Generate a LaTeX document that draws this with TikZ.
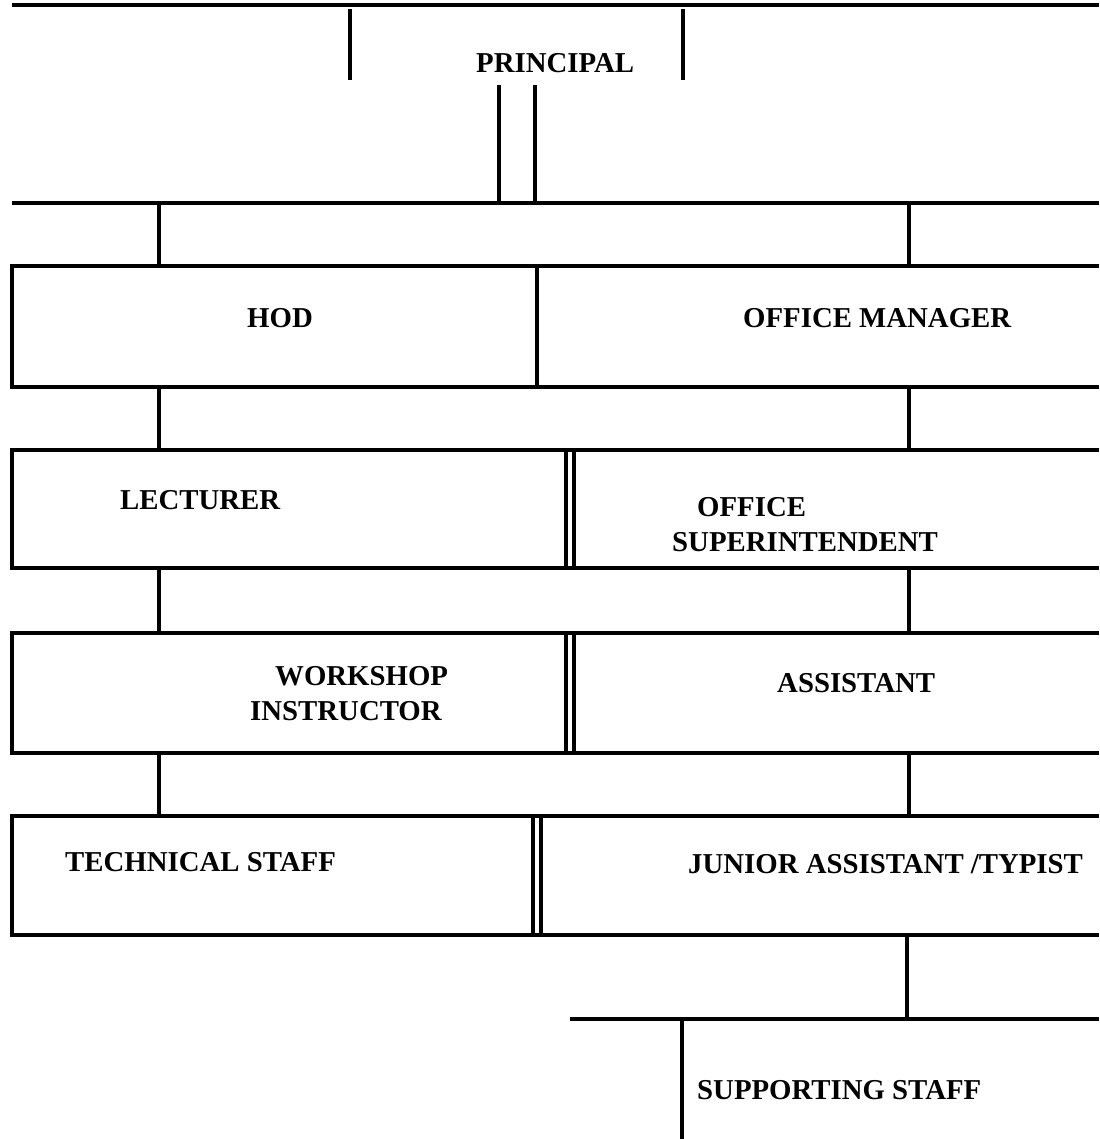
\documentclass[tikz,border=0pt]{standalone}
\usepackage{fontspec}
\setmainfont{Liberation Serif}
\begin{document}
\begin{tikzpicture}[x=1pt,y=-1pt,
  rule/.style={line width=3.5pt,black},
  lbl/.style={font=\fontsize{28.8}{35}\selectfont\bfseries,inner sep=0pt,anchor=west,align=left}]
\useasboundingbox (0,0) rectangle (1099,1139);
% labels
\node[lbl] (p) at (476,63) {PRINCIPAL};
\node[lbl] (hod) at (247,318) {HOD};
\node[lbl] (om) at (743,318) {OFFICE MANAGER};
\node[lbl] (lec) at (120,500) {LECTURER};
\node[lbl] (os) at (672,525) {\hspace*{25pt}OFFICE\\SUPERINTENDENT};
\node[lbl] (ws) at (250,694) {\hspace*{25pt}WORKSHOP\\INSTRUCTOR};
\node[lbl] (asst) at (777,683) {ASSISTANT};
\node[lbl] (tech) at (65,862) {TECHNICAL STAFF};
\node[lbl] (jr) at (688,864) {JUNIOR ASSISTANT /TYPIST};
\node[lbl] (sup) at (697,1090) {SUPPORTING STAFF};
% coordinates
\coordinate (pL1) at (350,9); \coordinate (pL2) at (350,80);
\coordinate (pR1) at (683,9); \coordinate (pR2) at (683,80);
\coordinate (d1a) at (499,85); \coordinate (d1b) at (499,203);
\coordinate (d2a) at (535,85); \coordinate (d2b) at (535,203);
% principal block
\draw[rule] (12,5) -- (1099,5);
\draw[rule] (pL1) -- (pL2);
\draw[rule] (pR1) -- (pR2);
\draw[rule] (d1a) -- (d1b);
\draw[rule] (d2a) -- (d2b);
\draw[rule] (12,203) -- (1099,203);
% connectors to row 1
\draw[rule] (159,203) -- (159,266);
\draw[rule] (909,203) -- (909,266);
% row 1: HOD / OFFICE MANAGER
\draw[rule] (1099,266) -| (12,387) -- (1099,387);
\draw[rule] (537,266) -- (537,387);
\draw[rule] (159,387) -- (159,450);
\draw[rule] (909,387) -- (909,450);
% row 2: LECTURER / OFFICE SUPERINTENDENT
\draw[rule] (1099,450) -| (12,568) -- (1099,568);
\draw[rule] (566,450) -- (566,568);
\draw[rule] (574,450) -- (574,568);
\draw[rule] (159,568) -- (159,633);
\draw[rule] (909,568) -- (909,633);
% row 3: WORKSHOP INSTRUCTOR / ASSISTANT
\draw[rule] (1099,633) -| (12,753) -- (1099,753);
\draw[rule] (566,633) -- (566,753);
\draw[rule] (574,633) -- (574,753);
\draw[rule] (159,753) -- (159,816);
\draw[rule] (909,753) -- (909,816);
% row 4: TECHNICAL STAFF / JUNIOR ASSISTANT
\draw[rule] (1099,816) -| (12,935) -- (1099,935);
\draw[rule] (533,816) -- (533,935);
\draw[rule] (541,816) -- (541,935);
% supporting staff
\draw[rule] (907,935) -- (907,1019);
\draw[rule] (570,1019) -- (1099,1019);
\draw[rule] (682,1019) -- (682,1139);
\end{tikzpicture}
\end{document}
